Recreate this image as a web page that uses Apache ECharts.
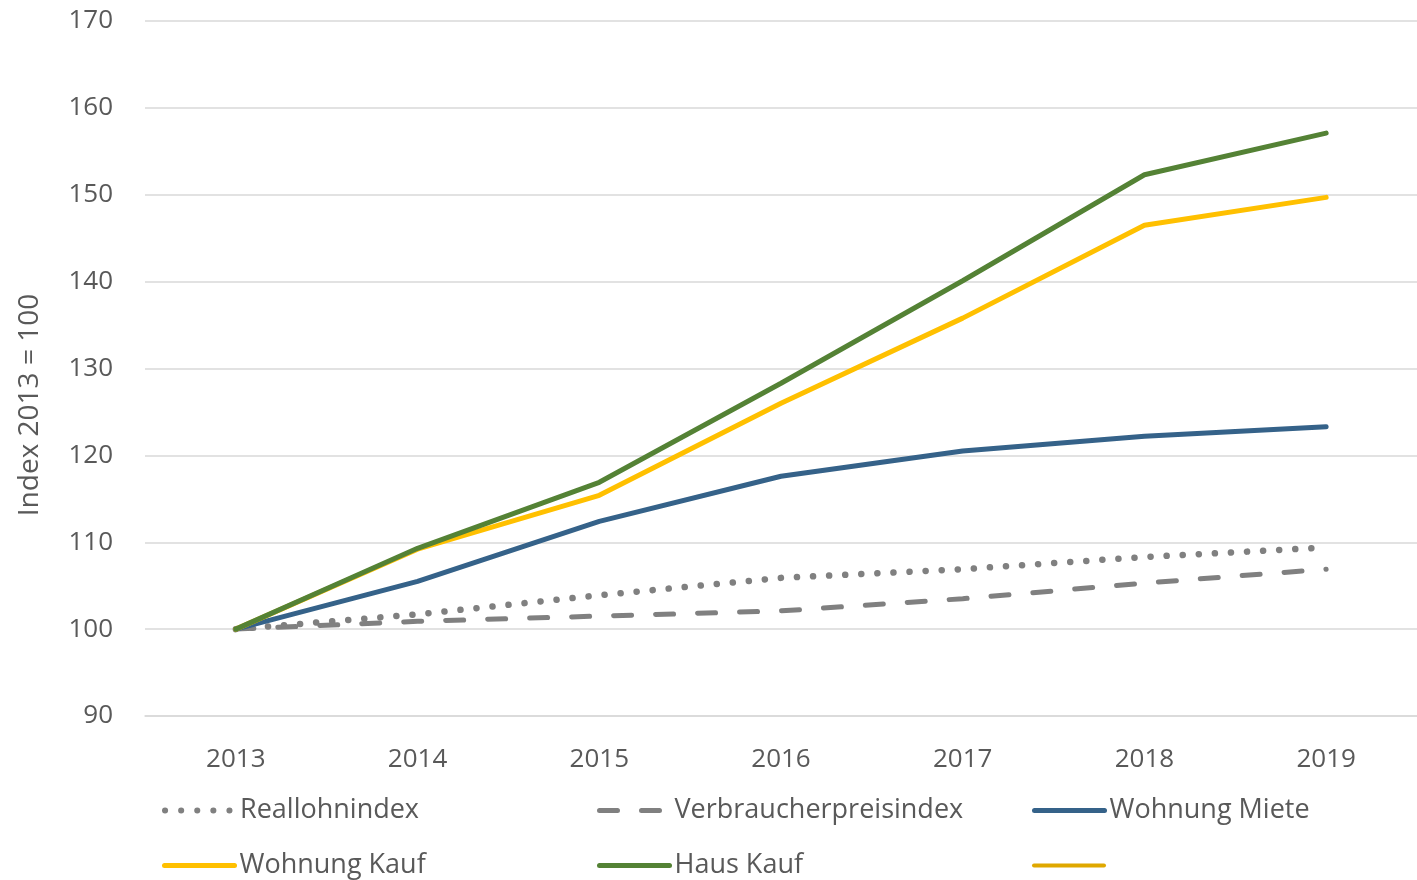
<!DOCTYPE html>
<html>
<head>
<meta charset="utf-8">
<script src="https://cdn.jsdelivr.net/npm/echarts@6/dist/echarts.min.js"></script>
<style>
  html, body { margin: 0; padding: 0; background: #fff; }
  #chart { width: 1417px; height: 880px; }
</style>
</head>
<body>
<div id="chart"></div>
<script>
// data
var years = ['2013', '2014', '2015', '2016', '2017', '2018', '2019'];
var reallohn = [100, 101.7, 103.9, 105.9, 106.9, 108.3, 109.4];
var vpi = [100, 100.9, 101.5, 102.1, 103.5, 105.3, 106.9];
var mieteWohnung = [100, 105.5, 112.4, 117.6, 120.5, 122.2, 123.3];
var kaufWohnung = [100, 109.2, 115.4, 126.0, 135.8, 146.5, 149.7];
var kaufHaus = [100, 109.3, 116.9, 128.3, 140.1, 152.3, 157.1];
var yTicks = { min: 90, max: 170, step: 10 };

var txt = '#595959';
var font = '"Open Sans", "Noto Sans", sans-serif';

var chart = echarts.init(document.getElementById('chart'));

// one legend per item so the 3-column grid lines up like the original
function leg(name, left, top, width) {
  return {
    data: [name],
    left: left,
    top: top,
    orient: 'horizontal',
    itemWidth: 70,
    itemHeight: 14,
    padding: 0,
    selectedMode: false,
    itemStyle: { opacity: 0 },
    lineStyle: { width: width, cap: 'round' },
    textStyle: { color: txt, fontSize: 27, fontFamily: font }
  };
}

var option = {
  animation: false,
  grid: { left: 145, right: 0, top: 21, bottom: 164, containLabel: false },
  xAxis: {
    type: 'category',
    data: years,
    boundaryGap: true,
    axisLine: { lineStyle: { color: '#d9d9d9', width: 1.5 } },
    axisTick: { show: false },
    axisLabel: { color: txt, fontSize: 26, fontFamily: font, margin: 31 }
  },
  yAxis: {
    type: 'value',
    min: yTicks.min,
    max: yTicks.max,
    interval: yTicks.step,
    axisLine: { show: false },
    axisTick: { show: false },
    splitLine: { lineStyle: { color: '#d9d9d9', width: 1.5 } },
    axisLabel: { color: txt, fontSize: 26, fontFamily: font, margin: 32 }
  },
  graphic: [{
    type: 'text',
    x: 30,
    y: 405,
    rotation: Math.PI / 2,
    style: {
      text: 'Index 2013 = 100',
      fill: txt,
      fontSize: 28,
      fontFamily: font,
      align: 'center',
      verticalAlign: 'middle'
    }
  }],
  legend: [
    leg('Reallohnindex', 162, 797, 6),
    leg('Verbraucherpreisindex', 597, 797, 5),
    leg('Wohnung Miete', 1032, 797, 5),
    leg('Wohnung Kauf', 162, 852, 5),
    leg('Haus Kauf', 597, 852, 5),
    leg(' ', 1032, 852, 4)
  ],
  series: [
    {
      name: 'Reallohnindex', type: 'line', data: reallohn, symbol: 'none',
      lineStyle: { color: '#808080', width: 6.5, type: [0.1, 16], cap: 'round' },
      itemStyle: { color: '#808080' }
    },
    {
      name: 'Verbraucherpreisindex', type: 'line', data: vpi, symbol: 'none',
      lineStyle: { color: '#808080', width: 5, type: [18, 24], cap: 'round' },
      itemStyle: { color: '#808080' }
    },
    {
      name: 'Wohnung Miete', type: 'line', data: mieteWohnung, symbol: 'none',
      lineStyle: { color: '#356289', width: 5, cap: 'round' },
      itemStyle: { color: '#356289' }
    },
    {
      name: 'Wohnung Kauf', type: 'line', data: kaufWohnung, symbol: 'none',
      lineStyle: { color: '#FFC000', width: 5, cap: 'round' },
      itemStyle: { color: '#FFC000' }
    },
    {
      name: 'Haus Kauf', type: 'line', data: kaufHaus, symbol: 'none',
      lineStyle: { color: '#548235', width: 5, cap: 'round' },
      itemStyle: { color: '#548235' }
    },
    {
      name: ' ', type: 'line', data: [], symbol: 'none',
      lineStyle: { color: '#DFA800', width: 4, cap: 'round' },
      itemStyle: { color: '#DFA800' }
    }
  ]
};

chart.setOption(option);
</script>
</body>
</html>
